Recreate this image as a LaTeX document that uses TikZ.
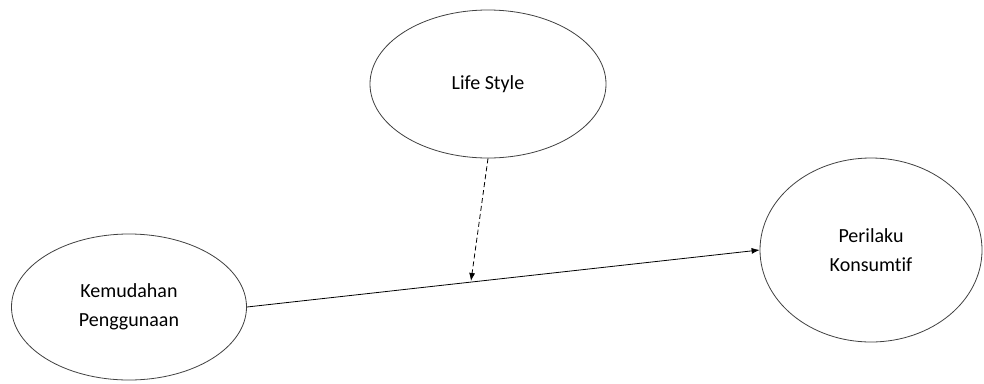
\documentclass[tikz,border=0pt]{standalone}
\usepackage{fontspec}
\setmainfont{Carlito}[Ligatures=NoCommon]
\usetikzlibrary{shapes.geometric,arrows.meta}
\tikzset{
  latent/.style={ellipse, draw=black!75, line width=0.8pt, inner sep=0pt,
    align=center, font=\fontsize{20}{29}\selectfont},
  path/.style={line width=0.8pt, -{Latex[length=8pt,width=6pt]}},
  moder/.style={path, dash pattern=on 5pt off 3pt}
}
\begin{document}
\begin{tikzpicture}[x=1pt,y=-1pt]
\useasboundingbox (0,0) rectangle (984,383);
\node[latent, minimum width=236pt, minimum height=148pt] (life) at (488,84) {Life Style};
\node[latent, minimum width=235pt, minimum height=146pt] (kem) at (129,307) {Kemudahan\\Penggunaan};
\node[latent, minimum width=222pt, minimum height=184pt] (per) at (871,250) {Perilaku\\Konsumtif};
\coordinate (mid) at (471,281);
\draw[path] (kem.east) -- (per.west);
\draw[moder] (life.south) -- (mid);
\end{tikzpicture}
\end{document}
